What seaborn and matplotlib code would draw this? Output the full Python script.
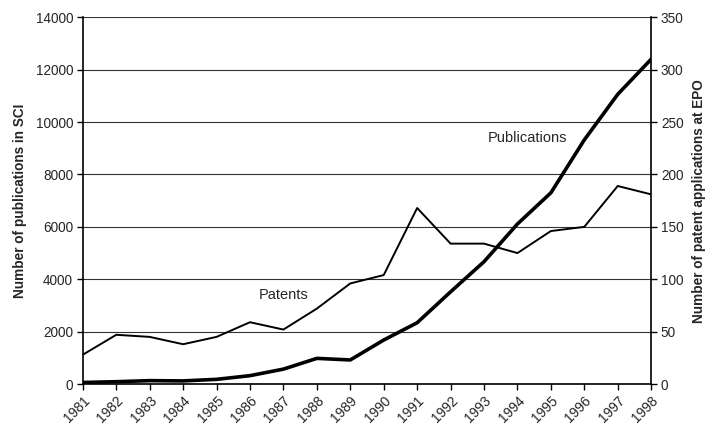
import matplotlib
matplotlib.use("Agg")
import matplotlib.pyplot as plt
import seaborn as sns
import pandas as pd

years = list(range(1981, 1999))
publications = [60, 90, 130, 120, 180, 320, 570, 980, 920, 1680, 2340, 3520,
                4670, 6110, 7300, 9320, 11060, 12400]
patents = [28, 47, 45, 38, 45, 59, 52, 72, 96, 104, 168, 134, 134, 125, 146,
           150, 189, 181]

sns.set_theme(style="white")
plt.rcParams['font.family'] = ['Liberation Sans', 'DejaVu Sans']

df = pd.DataFrame({"year": years, "publications": publications, "patents": patents})

fig = plt.figure(figsize=(7.14, 4.32), dpi=100)
ax = fig.add_axes([0.116, 0.111, 0.796, 0.849])
ax2 = ax.twinx()

sns.lineplot(data=df, x="year", y="publications", ax=ax, color="black", lw=2.6)
sns.lineplot(data=df, x="year", y="patents", ax=ax2, color="black", lw=1.4)

ax.set_xlim(1981, 1998)
ax.set_ylim(0, 14000)
ax2.set_ylim(0, 350)
ax.set_yticks(range(0, 14001, 2000))
ax2.set_yticks(range(0, 351, 50))
ax.set_xticks(years)
ax.set_xticklabels([str(y) for y in years], rotation=45, ha="right",
                   rotation_mode="anchor", fontsize=10)
ax.tick_params(axis="y", labelsize=9.8, length=4, width=1, direction="out",
               left=True, color="black", pad=3)
ax.tick_params(axis="x", length=4, width=1, direction="out", bottom=True,
               color="black", pad=3)
ax2.tick_params(axis="y", labelsize=9.8, length=4, width=1, direction="out",
                right=True, color="black", pad=3)

ax.yaxis.grid(True, color="#333333", lw=0.8)
ax.set_axisbelow(True)
for a in (ax, ax2):
    for s in a.spines.values():
        s.set_visible(False)
ax.spines["left"].set_visible(True)
ax.spines["left"].set_color("black")
ax.spines["left"].set_linewidth(1.2)
ax.spines["bottom"].set_visible(True)
ax.spines["bottom"].set_color("black")
ax.spines["bottom"].set_linewidth(1.2)
ax2.spines["right"].set_visible(True)
ax2.spines["right"].set_color("black")
ax2.spines["right"].set_linewidth(1.2)

ax.set_xlabel("")
ax.set_ylabel("Number of publications in SCI", fontsize=9.8, fontweight="bold",
              labelpad=6)
ax2.set_ylabel("Number of patent applications at EPO", fontsize=9.8,
               fontweight="bold", labelpad=6)

ax.text(1987.0, 3380, "Patents", fontsize=10.5, ha="center", va="center")
ax.text(1994.3, 9400, "Publications", fontsize=10.5, ha="center", va="center")

fig.savefig("out.png", dpi=100)
